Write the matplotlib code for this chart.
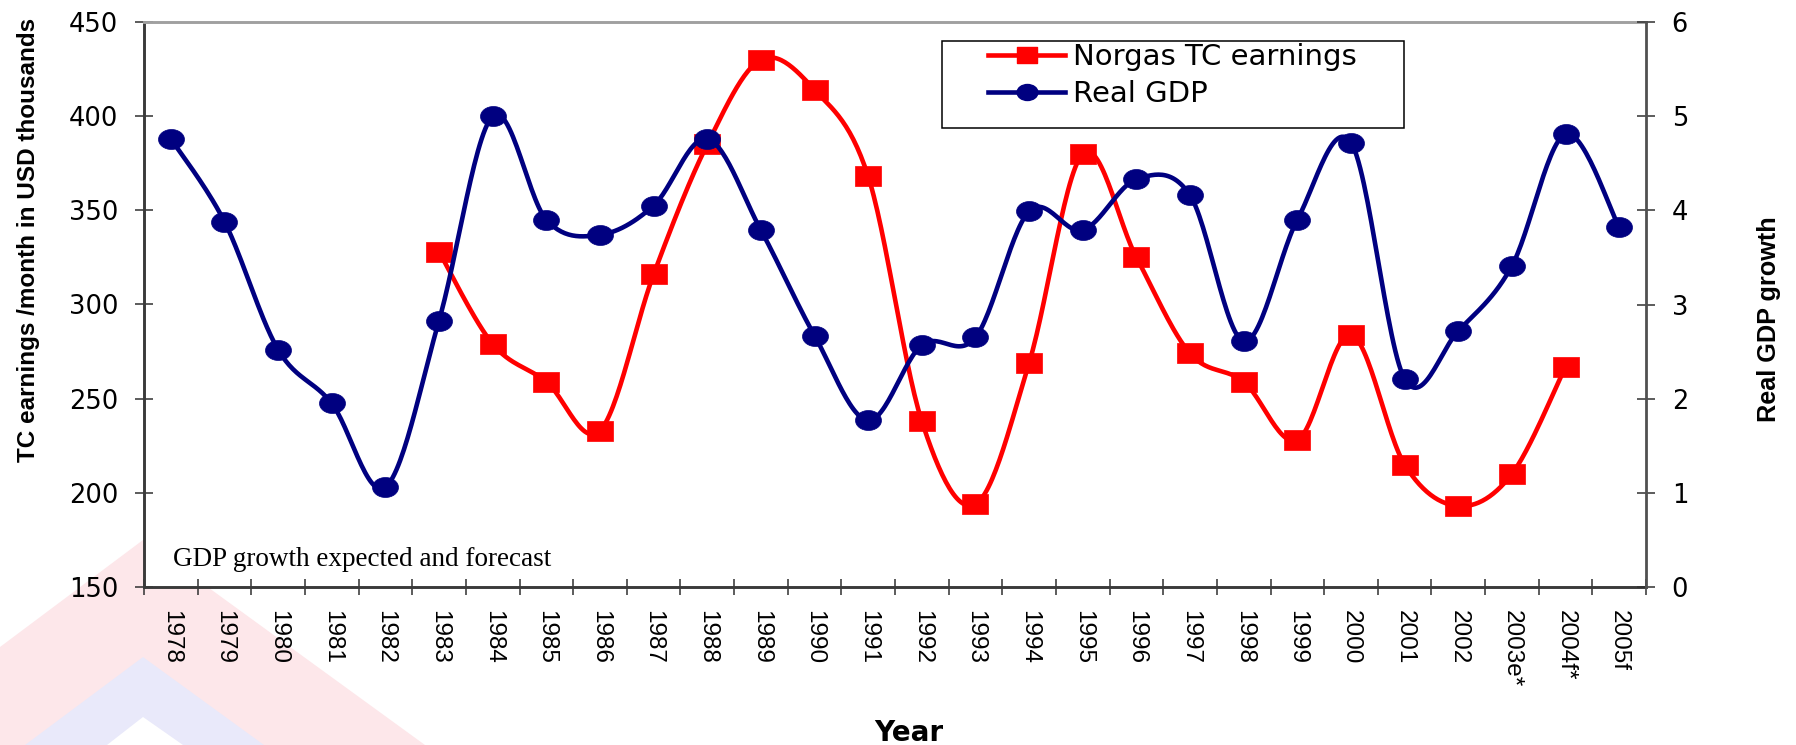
"""Norgas TC earnings vs real GDP growth, 1978-2005f."""

import numpy as np
import matplotlib
matplotlib.use('Agg')
import matplotlib.pyplot as plt
from matplotlib import font_manager
from matplotlib.lines import Line2D
from matplotlib.patches import Polygon, Rectangle
from matplotlib.path import Path
from matplotlib.transforms import Affine2D

# Data
years = ['1978', '1979', '1980', '1981', '1982', '1983', '1984', '1985', '1986',
         '1987', '1988', '1989', '1990', '1991', '1992', '1993', '1994', '1995',
         '1996', '1997', '1998', '1999', '2000', '2001', '2002', '2003e*',
         '2004f*', '2005f']
norgas_tc = [np.nan, np.nan, np.nan, np.nan, np.nan,
             328, 279, 259, 233, 316, 385, 430, 414, 368, 238, 194, 269, 380,
             325, 274, 259, 228, 284, 215, 193, 210, 267,
             np.nan]
real_gdp = [4.76, 3.88, 2.52, 1.95, 1.06, 2.83, 5.00, 3.90, 3.74, 4.05, 4.76,
            3.79, 2.67, 1.77, 2.57, 2.65, 3.99, 3.79, 4.33, 4.16, 2.61, 3.90,
            4.72, 2.21, 2.72, 3.41, 4.81, 3.82]
left_ticks = [150, 200, 250, 300, 350, 400, 450]
right_ticks = [0, 1, 2, 3, 4, 5, 6]

RED = '#ff0000'
NAVY = '#000080'
W, H = 1796, 745


def smooth(xs, ys, n=30):
    """Excel-style smoothed line (Catmull-Rom through the points)."""
    pts = np.column_stack([xs, ys]).astype(float)
    out = [pts[0]]
    t = np.linspace(0, 1, n)[1:, None]
    for i in range(len(pts) - 1):
        p0 = pts[max(i - 1, 0)]
        p1 = pts[i]
        p2 = pts[i + 1]
        p3 = pts[min(i + 2, len(pts) - 1)]
        c1 = p1 + (p2 - p0) / 6.0
        c2 = p2 - (p3 - p1) / 6.0
        seg = ((1 - t) ** 3 * p1 + 3 * (1 - t) ** 2 * t * c1
               + 3 * (1 - t) * t ** 2 * c2 + t ** 3 * p2)
        out.extend(seg)
    out = np.array(out)
    return out[:, 0], out[:, 1]


def px(x, y):
    return x / W, 1 - y / H


# Markers are a little wider than tall in the original
ellipse = Path.unit_circle().transformed(Affine2D().scale(1.0, 0.77))
box = Path([(-1, -0.77), (1, -0.77), (1, 0.77), (-1, 0.77), (-1, -0.77)], closed=True)

names = {f.name for f in font_manager.fontManager.ttflist}
if 'Liberation Sans Narrow' in names:
    year_font = dict(family='Liberation Sans Narrow', size=21.5)
    ylab_font = dict(family='Liberation Sans Narrow', weight='bold', size=21)
else:
    year_font = dict(family='Liberation Sans', size=17.5)
    ylab_font = dict(family='Liberation Sans', weight='bold', size=17.5)

fig = plt.figure(figsize=(W / 100, H / 100), dpi=100)

# Background watermark (nested chevrons, bottom left)
for pts, col in [([(0, 745), (0, 647), (143, 540), (425, 745)], '#fde7ea'),
                 ([(25, 745), (143, 657), (264, 745)], '#e9e9fa'),
                 ([(107, 745), (143, 717), (183, 745)], 'white')]:
    fig.add_artist(Polygon([px(x, y) for x, y in pts], closed=True,
                           transform=fig.transFigure, facecolor=col,
                           edgecolor='none', zorder=-1))

x0, x1 = px(144, 587)[0], px(1646, 22)[0]
y0, y1 = px(144, 587)[1], px(1646, 22)[1]
ax = fig.add_axes([x0, y0, x1 - x0, y1 - y0])
ax2 = ax.twinx()

x = np.arange(len(years))

# Norgas TC earnings (left axis)
nt = np.array(norgas_tc, dtype=float)
ok = ~np.isnan(nt)
sx, sy = smooth(x[ok], nt[ok])
ax.plot(sx, sy, color=RED, lw=3.3, solid_capstyle='round', zorder=2)
ax.plot(x[ok], nt[ok], ls='none', marker=box, markersize=18.7,
        color=RED, mec=RED, mew=0.5, zorder=3)

# Real GDP (right axis)
gx, gy = smooth(x, real_gdp)
ax2.plot(gx, gy, color=NAVY, lw=3.3, solid_capstyle='round', zorder=2)
ax2.plot(x, real_gdp, ls='none', marker=ellipse, markersize=18.7,
         color=NAVY, mec=NAVY, mew=0.5, zorder=3)

# Limits and ticks
ax.set_xlim(-0.5, len(years) - 0.5)
ax.set_ylim(150, 450)
ax2.set_ylim(0, 6)
ax.set_yticks(left_ticks)
ax2.set_yticks(right_ticks)
tick_font = dict(family='DejaVu Sans', size=18.5)
ax.set_yticklabels([str(v) for v in left_ticks], **tick_font)
ax2.set_yticklabels([str(v) for v in right_ticks], **tick_font)

ax.set_xticks(np.arange(-0.5, len(years), 1.0))
ax.set_xticklabels([])
ax.set_xticks(x, minor=True)
ax.set_xticklabels(years, minor=True, rotation=-90, **year_font)
ax.tick_params(axis='x', which='major', direction='inout', length=12,
               width=1.1, color='#303030')
ax.tick_params(axis='x', which='minor', length=0, pad=16.5)
ax.tick_params(axis='y', direction='inout', length=13, width=1.1,
               color='#303030', pad=12)
ax2.tick_params(axis='y', direction='inout', length=13, width=1.1,
                color='#303030', pad=12)

# Spines
for s in ['left', 'bottom']:
    ax.spines[s].set_color('#3a3a3a')
    ax.spines[s].set_linewidth(2.1)
ax.spines['top'].set_color('#a0a0a0')
ax.spines['top'].set_linewidth(2.1)
ax.spines['right'].set_visible(False)
for s in ['left', 'bottom', 'top']:
    ax2.spines[s].set_visible(False)
ax2.spines['right'].set_color('#505050')
ax2.spines['right'].set_linewidth(2.0)

# Axis titles
fig.text(*px(29, 240), 'TC earnings /month in USD thousands', rotation=90,
         ha='center', va='center', **ylab_font)
fig.text(*px(1769, 319), 'Real GDP growth', rotation=90, ha='center',
         va='center', family='Liberation Sans', weight='bold', size=18.2)
fig.text(*px(909, 733), 'Year', ha='center', va='center',
         family='DejaVu Sans', weight='bold', size=20)

ax.text(0.0193, 0.037, 'GDP growth expected and forecast', transform=ax.transAxes,
        family='Liberation Serif', size=19.5, va='baseline', ha='left')

# Legend with a plain box
lx, ly = px(942, 128)
fig.add_artist(Rectangle((lx, ly), (1404 - 942) / W, (128 - 41) / H,
                         transform=fig.transFigure, facecolor='white',
                         edgecolor='black', lw=1.1, zorder=3))
handles = [Line2D([], [], color=RED, lw=3.3, marker=box, markersize=18.7,
                  mec=RED),
           Line2D([], [], color=NAVY, lw=3.3, marker=ellipse, markersize=18.7,
                  mec=NAVY)]
fig.legend(handles, ['Norgas TC earnings', 'Real GDP'], loc='upper left',
           bbox_to_anchor=px(988, 43), frameon=False, borderpad=0,
           borderaxespad=0, handlelength=2.64, handletextpad=0.27,
           labelspacing=0.3, markerscale=0.8,
           prop=dict(family='DejaVu Sans', size=21))

fig.savefig('out.png', dpi=100, facecolor='white')
